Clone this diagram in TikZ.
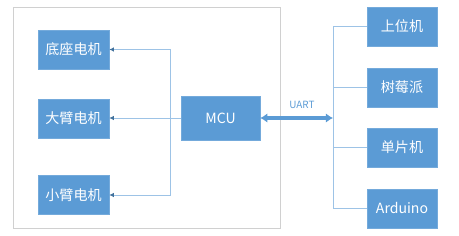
\documentclass[tikz,border=0pt]{standalone}
\usepackage{fontspec}
\setmainfont{Noto Sans CJK SC}
\usetikzlibrary{arrows.meta,positioning}
\definecolor{boxblue}{HTML}{5B9BD5}
\definecolor{linkblue}{HTML}{9DC3E6}
\definecolor{tipblue}{HTML}{41719C}
\definecolor{framegray}{HTML}{D0D0D0}
\begin{document}
\begin{tikzpicture}[x=0.03cm,y=-0.03cm,>=Latex]
  \tikzstyle{unit}=[draw=boxblue!85!white,fill=boxblue,text=white,minimum width=2.13cm,minimum height=1.17cm,font=\fontsize{12}{14}\selectfont,inner sep=0pt]
  \tikzstyle{link}=[draw=linkblue,line width=0.8pt]
  \tikzstyle{tip}=[-{Latex[length=4pt,width=4pt,color=tipblue]}]
  \useasboundingbox (0,0) rectangle (459,236);
  \draw[framegray,line width=0.8pt] (13,7) rectangle (280,228);
  % motors
  \node[unit] (base) at (73.5,49.5) {底座电机};
  \node[unit] (bigarm) at (73.5,118.5) {大臂电机};
  \node[unit] (smallarm) at (73.5,195) {小臂电机};
  \node[unit,minimum width=2.37cm,minimum height=1.32cm] (mcu) at (220.5,118) {MCU};
  % hosts
  \node[unit,minimum width=2.1cm] (pc) at (402,26.5) {上位机};
  \node[unit,minimum width=2.1cm,below=0.64cm of pc] (rpi) {树莓派};
  \node[unit,minimum width=2.1cm,below=0.62cm of rpi] (scm) {单片机};
  \node[unit,minimum width=2.1cm,below=0.64cm of scm] (ard) {Arduino};
  \coordinate (lbus) at (170,118);
  \coordinate (rbus) at (333,118);
  \draw[link,tip] (mcu.west) -- (bigarm.east |- mcu.west);
  \draw[link,tip] (lbus) |- (base.east);
  \draw[link,tip] (lbus) |- (smallarm.east);
  % serial bus
  \draw[boxblue,line width=3.2pt,{Latex[length=6pt,width=8pt]}-{Latex[length=6pt,width=8pt]}] (mcu.east) -- (rbus);
  \node[text=boxblue,font=\fontsize{8.5}{10}\selectfont] (uart) at (302,105) {UART};
  \draw[link] (rbus) |- (pc.west);
  \draw[link] (rbus) |- (rpi.west);
  \draw[link] (rbus) |- (scm.west);
  \draw[link] (rbus) |- (ard.west);
\end{tikzpicture}
\end{document}
